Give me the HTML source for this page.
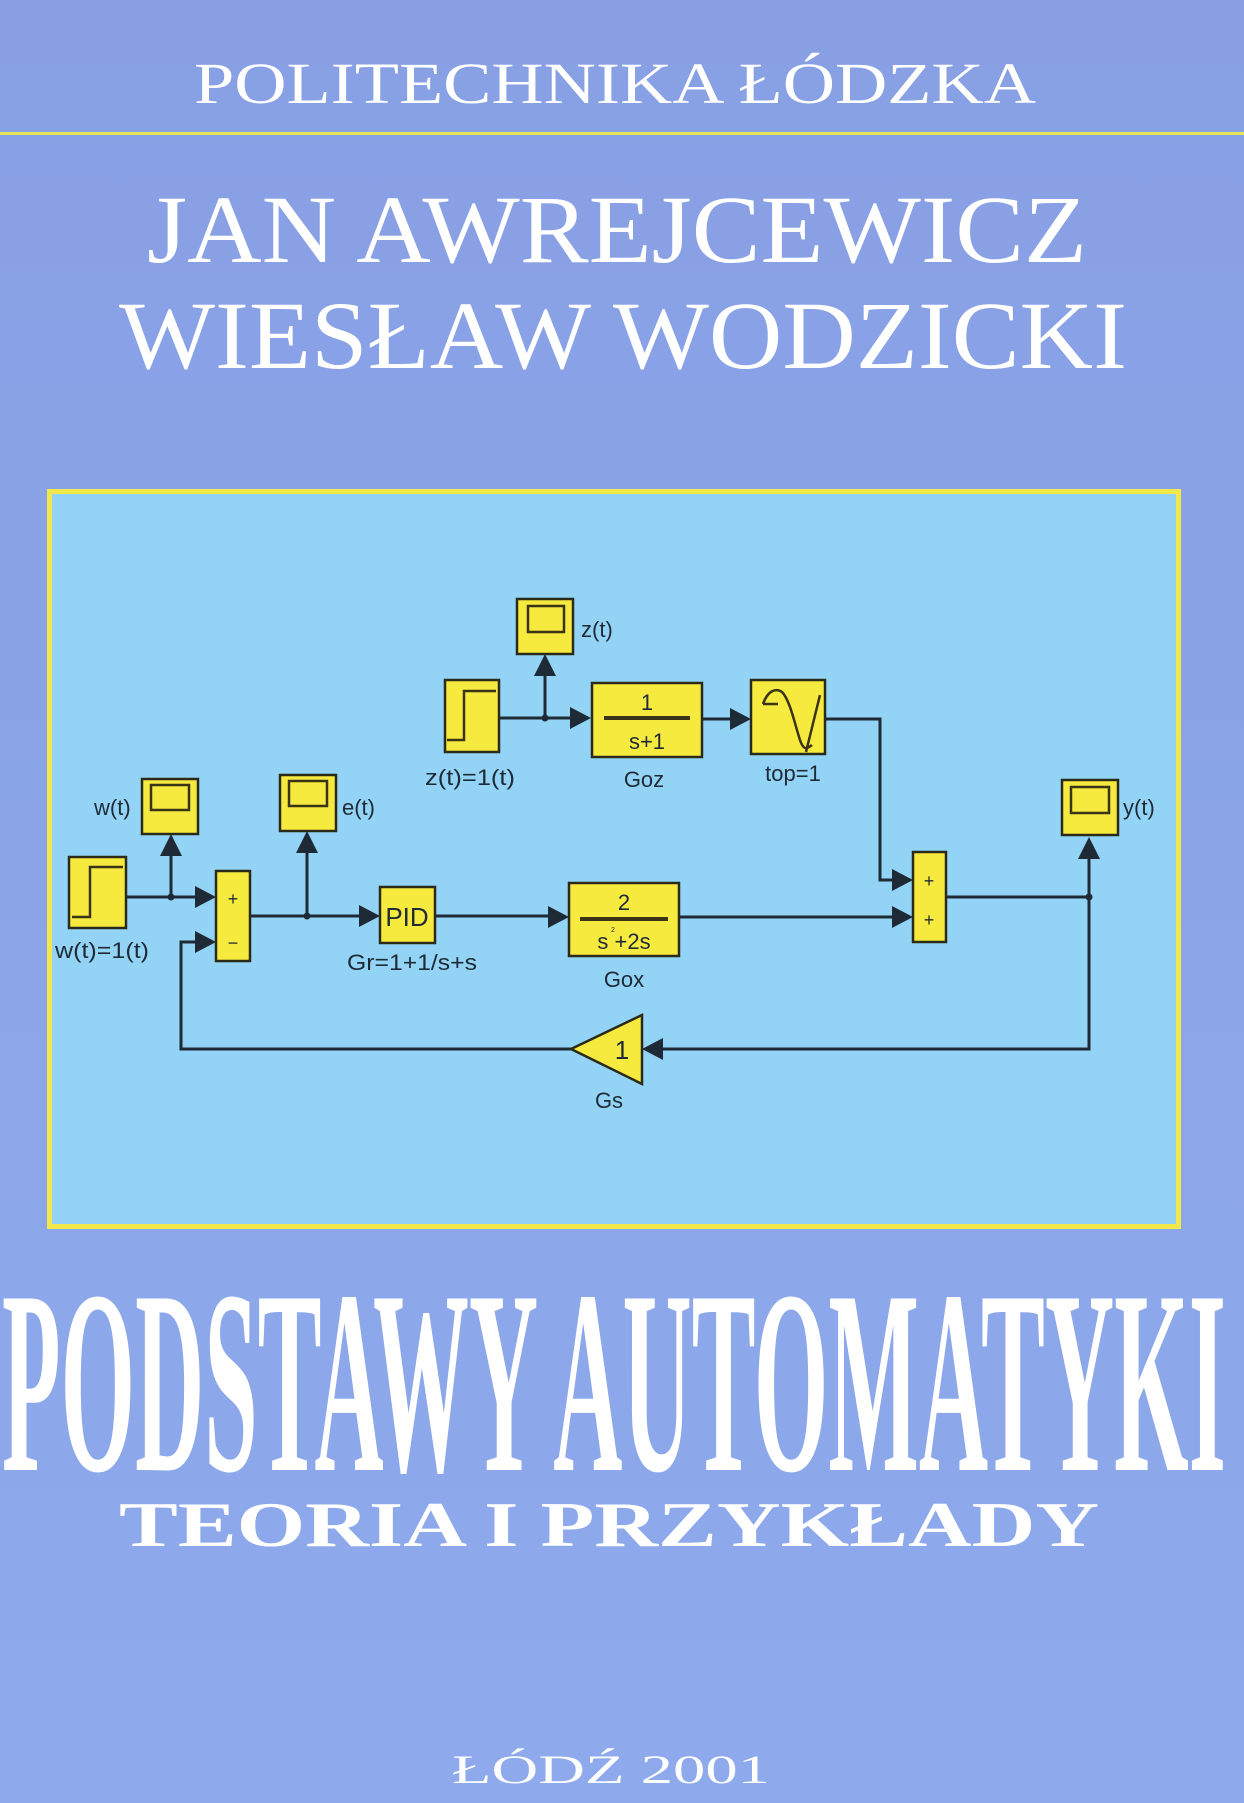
<!DOCTYPE html>
<html><head><meta charset="utf-8"><style>html,body{margin:0;padding:0;background:#8ca4e6;}svg{display:block}</style></head>
<body>
<svg width="1244" height="1803" viewBox="0 0 1244 1803" xmlns="http://www.w3.org/2000/svg">
<defs>
<linearGradient id="bg" x1="0" y1="0" x2="0" y2="1"><stop offset="0" stop-color="#889fe4"/><stop offset="1" stop-color="#8eaaec"/></linearGradient>
</defs>
<rect width="1244" height="1803" fill="url(#bg)"/>
<g font-family="Liberation Serif, serif" fill="#ffffff">
<text x="194" y="103" font-size="58" textLength="842" lengthAdjust="spacingAndGlyphs">POLITECHNIKA ŁÓDZKA</text>
<text x="147" y="262" font-size="96" textLength="940" lengthAdjust="spacingAndGlyphs">JAN AWREJCEWICZ</text>
<text x="119" y="368" font-size="96" textLength="1008" lengthAdjust="spacingAndGlyphs">WIESŁAW WODZICKI</text>
<text x="2" y="1470" font-size="262" font-weight="bold" textLength="1224" lengthAdjust="spacingAndGlyphs">PODSTAWY AUTOMATYKI</text>
<text x="119" y="1546" font-size="64" font-weight="bold" textLength="980" lengthAdjust="spacingAndGlyphs">TEORIA I PRZYKŁADY</text>
<text x="452" y="1783" font-size="40" textLength="318" lengthAdjust="spacingAndGlyphs">ŁÓDŹ 2001</text>
</g>
<rect x="0" y="132" width="1244" height="3" fill="#e8e45a"/>
<rect x="49.5" y="491.5" width="1129" height="735" fill="#93d4f6" stroke="#f2e84a" stroke-width="5"/>

<g stroke="#1e2a36" stroke-width="3" fill="none">
<polyline points="499,718 575,718"/>
<line x1="545" y1="718" x2="545" y2="676"/>
<line x1="702" y1="719" x2="735" y2="719"/>
<polyline points="825,719 880,719 880,880 893,880"/>
<line x1="126" y1="897" x2="196" y2="897"/>
<line x1="171" y1="897" x2="171" y2="856"/>
<line x1="250" y1="916" x2="360" y2="916"/>
<line x1="307" y1="916" x2="307" y2="853"/>
<line x1="435" y1="916" x2="550" y2="916"/>
<line x1="679" y1="917" x2="893" y2="917"/>
<line x1="946" y1="897" x2="1089" y2="897"/>
<polyline points="1089,859 1089,1049 662,1049"/>
<polyline points="571,1049 181,1049 181,942 196,942"/>
</g>
<g fill="#1e2a36">
<circle cx="545" cy="718" r="3.5"/><circle cx="171" cy="897" r="3.5"/><circle cx="307" cy="916" r="3.5"/><circle cx="1089" cy="897" r="3.5"/>
<polygon points="591,718 570,707 570,729"/>
<polygon points="545,654 534,676 556,676"/>
<polygon points="751,719 730,708 730,730"/>
<polygon points="913,880 892,869 892,891"/>
<polygon points="913,917 892,906 892,928"/>
<polygon points="1089,837 1078,859 1100,859"/>
<polygon points="642,1049 663,1038 663,1060"/>
<polygon points="216,897 195,886 195,908"/>
<polygon points="216,942 195,931 195,953"/>
<polygon points="171,834 160,856 182,856"/>
<polygon points="307,831 296,853 318,853"/>
<polygon points="380,916 359,905 359,927"/>
<polygon points="569,917 548,906 548,928"/>
</g>
<g fill="#f7ea3e" stroke="#2b2a18" stroke-width="2.5">
<rect x="517" y="599" width="56" height="55"/>
<rect x="445" y="680" width="54" height="72"/>
<rect x="592" y="683" width="110" height="74"/>
<rect x="751" y="680" width="74" height="74"/>
<rect x="913" y="852" width="33" height="90"/>
<rect x="1062" y="780" width="56" height="55"/>
<rect x="216" y="871" width="34" height="90"/>
<rect x="69" y="857" width="57" height="71"/>
<rect x="142" y="779" width="56" height="55"/>
<rect x="280" y="775" width="56" height="56"/>
<rect x="380" y="887" width="55" height="56"/>
<rect x="569" y="883" width="110" height="73"/>
<polygon points="571,1049 642,1015 642,1084"/>
</g>
<g fill="none" stroke="#3a3416" stroke-width="2.5">
<rect x="528" y="606" width="36" height="26"/>
<rect x="1071" y="787" width="38" height="26"/>
<rect x="151" y="785" width="38" height="25"/>
<rect x="289" y="781" width="38" height="25"/>
<polyline points="447,740 464,740 464,691 496,691"/>
<polyline points="72,917 90,917 90,867 123,867"/>
<path d="M763,704 C768,690 776,688 782,692 C790,700 795,725 800,740 C804,752 808,748 812,745 M763,704 L778,704 M820,695 L806,752"/>
</g>
<g fill="#3a3416">
<rect x="604" y="716" width="86" height="4"/>
<rect x="580" y="917" width="88" height="4"/>
</g>
<g font-family="Liberation Sans, sans-serif" fill="#1e2a36" font-size="22">
<text x="581" y="637">z(t)</text>
<text x="425" y="785" textLength="90" lengthAdjust="spacingAndGlyphs">z(t)=1(t)</text>
<text x="644" y="787" text-anchor="middle">Goz</text>
<text x="793" y="781" text-anchor="middle">top=1</text>
<text x="1123" y="815">y(t)</text>
<text x="94" y="815">w(t)</text>
<text x="342" y="815">e(t)</text>
<text x="55" y="958" textLength="94" lengthAdjust="spacingAndGlyphs">w(t)=1(t)</text>
<text x="347" y="970" textLength="130" lengthAdjust="spacingAndGlyphs">Gr=1+1/s+s</text>
<text x="624" y="987" text-anchor="middle">Gox</text>
<text x="609" y="1108" text-anchor="middle">Gs</text>
<text x="647" y="710" text-anchor="middle">1</text>
<text x="647" y="749" text-anchor="middle">s+1</text>
<text x="624" y="910" text-anchor="middle">2</text>
<text x="624" y="949" text-anchor="middle">s  +2s</text>
<text x="611" y="932" font-size="7">2</text>
<text x="407" y="926" text-anchor="middle" font-size="26">PID</text>
<text x="622" y="1059" text-anchor="middle" font-size="26">1</text>
<text x="233" y="905" text-anchor="middle" font-size="18">+</text>
<text x="233" y="949" text-anchor="middle" font-size="18">−</text>
<text x="929" y="887" text-anchor="middle" font-size="18">+</text>
<text x="929" y="926" text-anchor="middle" font-size="18">+</text>
</g>
</svg>
</body></html>
